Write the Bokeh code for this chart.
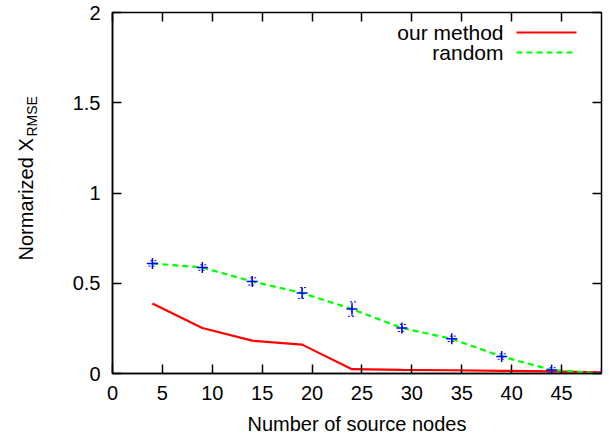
import math
from bokeh.plotting import figure
from bokeh.models import (ColumnDataSource, FixedTicker, LinearAxis, Label, Arrow,
                          Whisker, TeeHead, Range1d, CustomJSTickFormatter)
from bokeh.embed import file_html
from bokeh.resources import INLINE

# ---- data ----
x_ours = [4, 9, 14, 19, 24, 29, 34, 39, 44, 49]
y_ours = [0.388, 0.252, 0.182, 0.160, 0.024, 0.020, 0.018, 0.015, 0.012, 0.006]

x_random = [4, 9, 14, 19, 24, 29, 34, 39, 44, 49]
y_random = [0.610, 0.587, 0.510, 0.446, 0.357, 0.252, 0.192, 0.094, 0.020, 0.0]
err_random = [0.015, 0.015, 0.02, 0.03, 0.04, 0.02, 0.015, 0.015, 0.012, 0.0]

x_ticks = [0, 5, 10, 15, 20, 25, 30, 35, 40, 45]
y_ticks = [0, 0.5, 1, 1.5, 2]
y_tick_labels = {0: "0", 0.5: "0.5", 1: "1", 1.5: "1.5", 2: "2"}

legend_labels = ["our method", "random"]
x_label = "Number of source nodes"
y_label_main = "Normarized X"
y_label_sub = "RMSE"

FONT = "Liberation Sans"

p = figure(width=613, height=440, output_backend="svg", toolbar_location=None,
           x_range=Range1d(0, 49), y_range=Range1d(0, 2),
           min_border_left=112, min_border_right=12, min_border_top=12, min_border_bottom=67)
p.xgrid.visible = False
p.ygrid.visible = False
p.outline_line_color = "black"
p.outline_line_width = 1.5
p.background_fill_color = "white"
p.border_fill_color = "white"

# main axes
xa = p.xaxis[0]
xa.ticker = FixedTicker(ticks=x_ticks)
ya = p.yaxis[0]
ya.ticker = FixedTicker(ticks=y_ticks)
ya.major_label_overrides = y_tick_labels
for ax in (xa, ya):
    ax.major_tick_in = 9
    ax.major_tick_out = 0
    ax.minor_tick_in = 0
    ax.minor_tick_out = 0
    ax.axis_line_color = "black"
    ax.axis_line_width = 1.5
    ax.major_tick_line_color = "black"
    ax.major_tick_line_width = 1.5
    ax.major_label_text_font = FONT
    ax.major_label_text_font_size = "20px"
    ax.major_label_text_color = "black"
xa.major_label_standoff = 12
ya.major_label_standoff = 12
xa.axis_label = x_label
xa.axis_label_text_font = FONT
xa.axis_label_text_font_size = "20px"
xa.axis_label_text_font_style = "normal"
xa.axis_label_text_color = "black"
xa.axis_label_standoff = 10

# mirrored ticks on top and right (no labels)
blank = CustomJSTickFormatter(code="return '';")
top = LinearAxis(ticker=FixedTicker(ticks=x_ticks), major_tick_in=9, major_tick_out=0,
                 minor_tick_in=0, minor_tick_out=0, formatter=blank,
                 major_label_text_font_size="1px", major_label_standoff=0,
                 axis_line_color=None, major_tick_line_color="black", major_tick_line_width=1.5)
right = LinearAxis(ticker=FixedTicker(ticks=y_ticks), major_tick_in=9, major_tick_out=0,
                   minor_tick_in=0, minor_tick_out=0, formatter=blank,
                   major_label_text_font_size="1px", major_label_standoff=0,
                   axis_line_color=None, major_tick_line_color="black", major_tick_line_width=1.5)
p.add_layout(top, "above")
p.add_layout(right, "right")

# data
src_o = ColumnDataSource(dict(x=x_ours, y=y_ours))
src_r = ColumnDataSource(dict(x=x_random, y=y_random,
                              lo=[a - b for a, b in zip(y_random, err_random)],
                              hi=[a + b for a, b in zip(y_random, err_random)]))

p.line("x", "y", source=src_o, line_color="#ff0000", line_width=2.2)
p.line("x", "y", source=src_r, line_color="#00ff00", line_width=2.2, line_dash="6 4")
w = Whisker(source=src_r, base="x", lower="lo", upper="hi", line_color="#0000ff",
            line_width=1, line_dash="2 2",
            lower_head=TeeHead(size=8, line_color="#0000ff", line_width=1, line_dash="2 2"),
            upper_head=TeeHead(size=8, line_color="#0000ff", line_width=1, line_dash="2 2"))
p.add_layout(w)
p.scatter("x", "y", source=src_r, marker="cross", size=11, line_color="#0000ff", line_width=1.5)

# legend (text left, sample right)
leg_y = [341, 321]
leg_colors = ["#ff0000", "#00ff00"]
leg_dash = ["solid", "6 4"]
for lab, ly, c, d in zip(legend_labels, leg_y, leg_colors, leg_dash):
    p.add_layout(Label(x=391, y=ly, x_units="screen", y_units="screen", text=lab,
                       text_align="right", text_baseline="middle", text_font=FONT,
                       text_font_size="21px", text_color="black"))
    p.add_layout(Arrow(end=None, start=None, x_start=404, y_start=ly, x_end=464, y_end=ly,
                       start_units="screen", end_units="screen",
                       line_color=c, line_width=2.2, line_dash=d))

# y-axis label with subscript, placed in the left side panel
p.add_layout(Label(x=-22, y=113, x_units="screen", y_units="screen", text=y_label_main,
                   angle=math.pi / 2, text_align="left", text_baseline="alphabetic",
                   text_font=FONT, text_font_size="20px", text_color="black"), "left")
p.add_layout(Label(x=0, y=237, x_units="screen", y_units="screen", text=y_label_sub,
                   angle=math.pi / 2, text_align="left", text_baseline="alphabetic",
                   text_font=FONT, text_font_size="14px", text_color="black"), "left")

open("out.html", "w").write(file_html(p, INLINE))
